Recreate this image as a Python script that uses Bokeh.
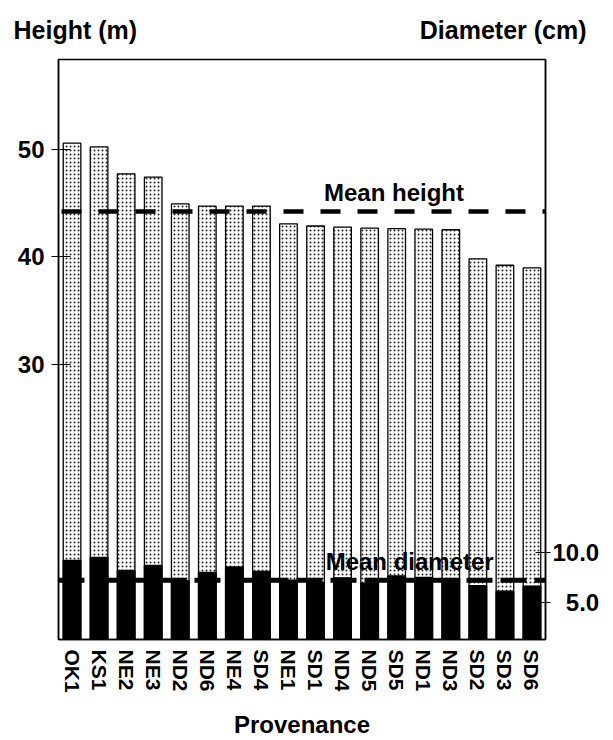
from bokeh.plotting import figure
from bokeh.models import (ColumnDataSource, FactorRange, Range1d, LinearAxis,
                          FixedTicker, Span, Label)
from bokeh.embed import file_html
from bokeh.resources import INLINE

# ---- data ----
provenance = ["OK1", "KS1", "NE2", "NE3", "ND2", "ND6", "NE4", "SD4", "NE1",
              "SD1", "ND4", "ND5", "SD5", "ND1", "ND3", "SD2", "SD3", "SD6"]
height_m = [50.55, 50.2, 47.7, 47.4, 44.9, 44.7, 44.7, 44.7, 43.05,
            42.85, 42.75, 42.65, 42.6, 42.55, 42.5, 39.8, 39.2, 38.95]
diameter_cm = [9.2, 9.5, 8.2, 8.7, 7.2, 8.0, 8.55, 8.1, 7.25,
               7.0, 7.45, 6.95, 7.65, 7.5, 7.4, 6.7, 6.15, 6.65]
mean_height = 44.2
mean_diameter = 7.24
height_ticks = [30, 40, 50]
diameter_ticks = [5, 10]
diameter_tick_labels = ["\u20075.0", "10.0"]

FONT = "Liberation Sans"

src = ColumnDataSource(dict(prov=provenance, h=height_m, d=diameter_cm))

p = figure(width=605, height=740, x_range=FactorRange(*provenance),
           y_range=Range1d(4.4, 58.33), output_backend="svg",
           toolbar_location=None, min_border_left=58, min_border_right=60,
           min_border_top=59, min_border_bottom=96)
p.extra_y_ranges = {"diam": Range1d(1.37, 58.73)}
p.grid.visible = False
p.outline_line_color = "black"
p.outline_line_width = 1.5
p.background_fill_color = "white"
p.border_fill_color = "white"

# left axis
ly = p.left[0]
ly.ticker = FixedTicker(ticks=height_ticks)
ly.minor_tick_line_color = None
ly.major_tick_in = 12
ly.major_tick_out = 7
ly.major_tick_line_width = 1.2
ly.axis_line_width = 1.5
ly.major_label_standoff = 7
ly.major_label_text_font = FONT
ly.major_label_text_font_style = "bold"
ly.major_label_text_font_size = "24px"
ly.major_label_text_color = "black"

# right axis
ry = LinearAxis(y_range_name="diam", ticker=FixedTicker(ticks=diameter_ticks),
                major_label_overrides={t: s for t, s in zip(diameter_ticks, diameter_tick_labels)})
ry.minor_tick_line_color = None
ry.major_tick_in = 10
ry.major_tick_out = 5
ry.major_tick_line_width = 1.2
ry.axis_line_width = 1.5
ry.major_label_standoff = 2
ry.major_label_text_font = FONT
ry.major_label_text_font_style = "bold"
ry.major_label_text_font_size = "24px"
ry.major_label_text_color = "black"
p.add_layout(ry, "right")

# bottom axis
bx = p.below[0]
bx.major_tick_line_color = None
bx.minor_tick_line_color = None
bx.axis_line_width = 1.5
bx.major_label_orientation = "vertical"
bx.major_label_standoff = 4
bx.major_label_text_font = FONT
bx.major_label_text_font_style = "bold"
bx.major_label_text_font_size = "21px"
bx.major_label_text_color = "black"
bx.axis_label = "Provenance"
bx.axis_label_standoff = 15
bx.axis_label_text_font = FONT
bx.axis_label_text_font_style = "bold"
bx.axis_label_text_font_size = "24px"
bx.axis_label_text_color = "black"

# height bars (stippled)
p.vbar(x="prov", top="h", bottom=0, width=0.65, source=src,
       fill_color="white", hatch_pattern="dot", hatch_color="#222222",
       hatch_scale=4, hatch_weight=1, line_color="black", line_width=1.3)
# diameter bars (black)
p.vbar(x="prov", top="d", bottom=0, width=0.65, source=src,
       y_range_name="diam", fill_color="black", line_color="black",
       line_width=1.3)

p.add_layout(Span(location=mean_height, dimension="width", line_color="black",
                  line_width=4.5, line_dash="20 17", line_dash_offset=34))
p.add_layout(Span(location=mean_diameter, dimension="width", y_range_name="diam",
                  line_color="black", line_width=5, line_dash="26 8"))

common = dict(text_font=FONT, text_font_style="bold", text_font_size="24px",
              text_color="black")
p.add_layout(Label(x=12.4, y=45.95, text="Mean height", text_align="center",
                   text_baseline="alphabetic", **common))
p.add_layout(Label(x=12.98, y=9.12, y_range_name="diam", text="Mean diameter",
                   text_align="center", text_baseline="alphabetic", **common))

# axis titles at the top (placed in the top border panel so they are not clipped)
title_style = dict(common, text_font_size="25px")
p.add_layout(Label(x=13, y=29, x_units="canvas", y_units="canvas",
                   text="Height (m)", text_align="left",
                   text_baseline="alphabetic", **title_style), "above")
p.add_layout(Label(x=586, y=29, x_units="canvas", y_units="canvas",
                   text="Diameter (cm)", text_align="right",
                   text_baseline="alphabetic", **title_style), "above")

open("out.html", "w").write(file_html(p, INLINE))
